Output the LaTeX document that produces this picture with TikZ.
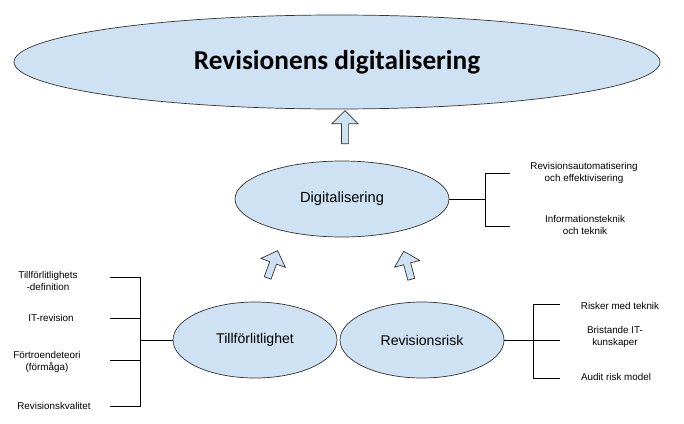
\documentclass[tikz,border=0pt]{standalone}
\usepackage{fontspec}
\setmainfont{Liberation Sans}
\newfontfamily\titlefont{Carlito}
\usetikzlibrary{shapes.arrows,shapes.geometric}
\definecolor{lb}{HTML}{CFE2F3}
\begin{document}
\begin{tikzpicture}[x=0.03cm,y=-0.03cm,
  ell/.style={ellipse,draw=black!80,fill=lb,line width=0.6pt,inner sep=0pt},
  arr/.style={single arrow,draw=black!80,fill=lb,line width=0.6pt,single arrow head extend=6pt,minimum height=33*0.03cm,minimum width=26*0.03cm,inner sep=2pt},
  lab/.style={font=\fontsize{8.4}{10}\selectfont,align=center},
  br/.style={black,line width=0.6pt}]
\useasboundingbox (0,0) rectangle (684,423);
\node[ell,minimum width=646*0.03cm,minimum height=94*0.03cm] (top) at (337,62) {};
\node[font=\titlefont\bfseries\fontsize{23.3}{26}\selectfont] (tt) at (337,62) {Revisionens digitalisering};
\node[ell,minimum width=214*0.03cm,minimum height=76*0.03cm] (dig) at (342,199) {};
\node[font=\fontsize{12.5}{14}\selectfont] (dt) at (342,199) {Digitalisering};
\node[ell,minimum width=164*0.03cm,minimum height=76*0.03cm] (til) at (255,340) {};
\node[font=\fontsize{12}{14}\selectfont] (tit) at (255,340) {Tillförlitlighet};
\node[ell,minimum width=164*0.03cm,minimum height=76*0.03cm] (rr) at (422,340) {};
\node[font=\fontsize{12}{14}\selectfont] (rrt) at (422,340) {Revisionsrisk};
\node[arr,rotate=90] (a1) at (345,129) {};
\node[arr,rotate=70,minimum height=29*0.03cm] (a2) at (272,266) {};
\node[arr,rotate=105,minimum height=29*0.03cm] (a3) at (408,267) {};
% right of digitalisering
\coordinate (d1) at (485,173); \coordinate (d2) at (485,226);
\coordinate (d0) at (485,199);
\draw[br] (dig.east) -- (d0);
\draw[br] (510,173) -- (d1) -- (d2) -- (510,226);
\node[lab] (t1) at (584,173) {Revisionsautomatisering\\och effektivisering};
\node[lab] (t2) at (585,225) {Informationsteknik\\och teknik};
% left bracket
\coordinate (l0) at (140,340);
\draw[br] (til.west) -- (l0);
\draw[br] (110,277) -- (140,277) -- (140,406) -- (110,406);
\draw[br] (110,318) -- (140,318);
\draw[br] (110,360) -- (140,360);
\node[lab] (u1) at (48,281) {Tillförlitlighets\\-definition};
\node[lab] (u2) at (51,318) {IT-revision};
\node[lab] (u3) at (47,362) {Förtroendeteori\\(förmåga)};
\node[lab] (u4) at (54,406) {Revisionskvalitet};
% right bracket
\coordinate (r0) at (533,340);
\draw[br] (rr.east) -- (r0);
\draw[br] (560,304) -- (533,304) -- (533,378) -- (560,378);
\draw[br] (533,340) -- (560,340);
\node[lab] (v1) at (620,306) {Risker med teknik};
\node[lab] (v2) at (615,337) {Bristande IT-\\kunskaper};
\node[lab] (v3) at (616,377) {Audit risk model};
\end{tikzpicture}
\end{document}
